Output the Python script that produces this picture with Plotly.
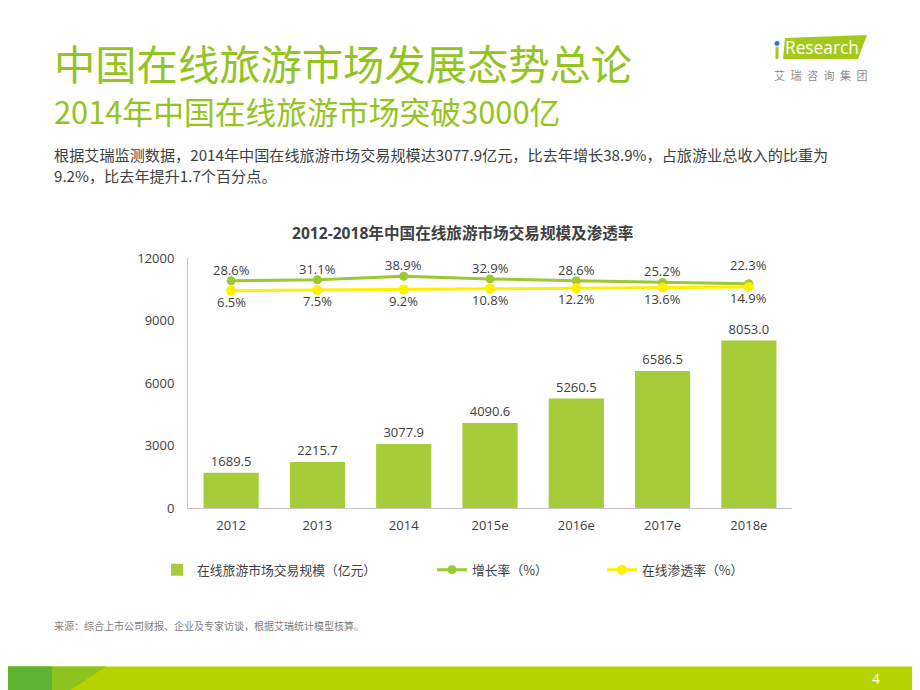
import plotly.graph_objects as go

years = ["2012", "2013", "2014", "2015e", "2016e", "2017e", "2018e"]
market_scale = [1689.5, 2215.7, 3077.9, 4090.6, 5260.5, 6586.5, 8053.0]
growth_rate = [28.6, 31.1, 38.9, 32.9, 28.6, 25.2, 22.3]
penetration = [6.5, 7.5, 9.2, 10.8, 12.2, 13.6, 14.9]
y_ticks = [0, 3000, 6000, 9000, 12000]

W, H = 920, 690
LIME = "#9DC832"
BAR = "#A6CC39"
YEL = "#FFF000"
TXT = "#404040"
FONT = "Open Sans, Noto Sans CJK SC, sans-serif"
CJK = "Noto Sans CJK SC, sans-serif"

# map screen pixel positions to paper fractions
def px(x):
    return (x - 8) / W

def py(y):
    return 1 - ((y - 16) / 0.976) / H

fig = go.Figure()
fig.add_trace(go.Bar(
    x=years, y=market_scale, name="在线旅游市场交易规模（亿元）",
    marker=dict(color=BAR, line=dict(width=0)),
    text=[f"{v:.1f}" for v in market_scale], textposition="outside",
    textfont=dict(size=13, color=TXT, family=FONT), cliponaxis=False,
    legend="legend",
))
fig.add_trace(go.Scatter(
    x=years, y=growth_rate, name="增长率（%）", yaxis="y2",
    mode="lines+markers", line=dict(color=LIME, width=3),
    marker=dict(color=LIME, size=9),
    legend="legend2",
))
fig.add_trace(go.Scatter(
    x=years, y=penetration, name="在线渗透率（%）", yaxis="y2",
    mode="lines+markers", line=dict(color=YEL, width=3),
    marker=dict(color=YEL, size=10),
    legend="legend3",
))

leg_common = dict(orientation="h", yanchor="middle", y=py(570),
                  font=dict(size=12.8, color=TXT, family=CJK),
                  bgcolor="rgba(0,0,0,0)", borderwidth=0)

fig.update_layout(
    width=W, height=H, margin=dict(l=0, r=0, t=0, b=0),
    paper_bgcolor="white", plot_bgcolor="white",
    bargap=0.36, showlegend=True,
    legend=dict(x=px(157), xanchor="left", **leg_common),
    legend2=dict(x=px(432), xanchor="left", **leg_common),
    legend3=dict(x=px(602), xanchor="left", **leg_common),
    xaxis=dict(type="category", categoryorder="array", categoryarray=years,
               range=[-0.5, len(years) - 0.5],
               domain=[px(188), px(792)], showline=True, linecolor="#C9C2C8",
               linewidth=1, ticks="", showgrid=False,
               tickfont=dict(size=13, color=TXT, family=FONT),
               ticklabelstandoff=5),
    yaxis=dict(domain=[py(508), py(258)], range=[0, 12000], tickvals=y_ticks,
               tickformat="d",
               showline=True, linecolor="#C9C2C8", linewidth=1, ticks="",
               showgrid=False, zeroline=False,
               tickfont=dict(size=13, color=TXT, family=FONT),
               ticklabelstandoff=10),
    yaxis2=dict(overlaying="y", side="right", range=[-477, 78.4],
                visible=False, showgrid=False),
)

annos = [
    dict(x=px(52), y=py(61), text="中国在线旅游市场发展态势总论", xanchor="left",
         yanchor="middle", font=dict(size=41.3, color="#94C41F", family=CJK)),
    dict(x=px(52), y=py(110), text="2014年中国在线旅游市场突破3000亿", xanchor="left",
         yanchor="middle", font=dict(size=30.8, color="#94C41F", family=CJK)),
    dict(x=px(52), y=py(153),
         text="根据艾瑞监测数据，2014年中国在线旅游市场交易规模达3077.9亿元，比去年增长38.9%，占旅游业总收入的比重为",
         xanchor="left", yanchor="middle", font=dict(size=15.15, color=TXT, family=CJK)),
    dict(x=px(52), y=py(174), text="9.2%，比去年提升1.7个百分点。",
         xanchor="left", yanchor="middle", font=dict(size=15.15, color=TXT, family=CJK)),
    dict(x=px(462), y=py(232), text="<b>2012-2018年中国在线旅游市场交易规模及渗透率</b>",
         xanchor="center", yanchor="middle", font=dict(size=15.6, color=TXT, family=FONT)),
    dict(x=px(52), y=py(626), text="来源：综合上市公司财报、企业及专家访谈，根据艾瑞统计模型核算。",
         xanchor="left", yanchor="middle", font=dict(size=10, color="#808080", family=CJK)),
    dict(x=px(876), y=py(679), text="4", xanchor="center", yanchor="middle",
         font=dict(size=14, color="white", family=FONT)),
    dict(x=px(822), y=py(47), text="Research", xanchor="center", yanchor="middle",
         font=dict(size=17.3, color="white", family="Open Sans, sans-serif")),
    dict(x=px(821), y=py(74), text="艾\u2002瑞\u2002咨\u2002询\u2002集\u2002团", xanchor="center",
         yanchor="middle", font=dict(size=11, color="#8C8C8C", family=CJK)),
]
for a in annos:
    a.update(xref="paper", yref="paper", showarrow=False)

# value labels for the two rate lines, placed on the data through the axes
# (x given as the category index)
for i, v in enumerate(growth_rate):
    annos.append(dict(x=i, y=v, xref="x", yref="y2", text=f"{v:.1f}%", showarrow=False,
                      yshift=19 if i == len(years) - 1 else 11,
                      xanchor="center", yanchor="middle",
                      font=dict(size=13, color=TXT, family=FONT)))
for i, v in enumerate(penetration):
    annos.append(dict(x=i, y=v, xref="x", yref="y2", text=f"{v:.1f}%", showarrow=False,
                      yshift=-11, xanchor="center", yanchor="middle",
                      font=dict(size=13, color=TXT, family=FONT)))
fig.update_layout(annotations=annos)

shapes = [
    # bottom band
    dict(type="rect", x0=-0.02, x1=1.02, y0=-0.02, y1=py(667), fillcolor="#B6D300", line=dict(width=0)),
    dict(type="path", path=f"M -0.02,{py(667)} L {px(106)},{py(667)} L {px(52)},-0.02 L -0.02,-0.02 Z",
         fillcolor="#8CC31E", line=dict(width=0)),
    dict(type="rect", x0=-0.02, x1=px(52), y0=-0.02, y1=py(667), fillcolor="#5FB332", line=dict(width=0)),
    # logo parallelogram
    dict(type="path",
         path=f"M {px(785)},{py(37)} L {px(867)},{py(34)} L {px(858)},{py(58)} L {px(783)},{py(58)} Z",
         fillcolor="#A5C91B", line=dict(width=0)),
    dict(type="rect", x0=px(775.5), x1=px(778.5), y0=py(58), y1=py(46), fillcolor="#A5C91B", line=dict(width=0)),
    dict(type="circle", x0=px(774.5), x1=px(779.5), y0=py(45), y1=py(40), fillcolor="#1E7FC4", line=dict(width=0)),
]
for s in shapes:
    s.update(xref="paper", yref="paper", layer="below")
fig.update_layout(shapes=shapes)

fig.write_html("out.html")
